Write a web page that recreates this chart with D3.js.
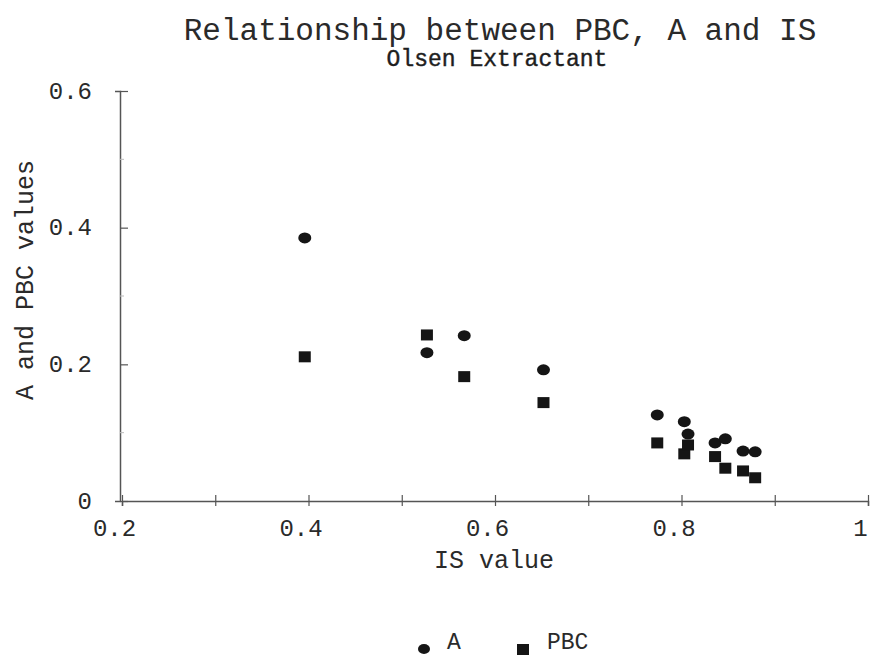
<!DOCTYPE html>
<html>
<head>
<meta charset="utf-8">
<script src="https://cdn.jsdelivr.net/npm/d3@7"></script>
<style>
  html, body { margin: 0; padding: 0; background: #fff; }
  svg { display: block; }
  text { font-family: "Liberation Mono", "DejaVu Sans Mono", monospace; fill: #2a2a2a; }
</style>
</head>
<body>
<svg id="chart" width="870" height="659"></svg>
<script>
// ---- data ----
const isValues  = [0.396, 0.527, 0.567, 0.652, 0.774, 0.803, 0.807, 0.836, 0.847, 0.866, 0.879];
const aValues   = [0.385, 0.217, 0.242, 0.192, 0.126, 0.116, 0.098, 0.085, 0.091, 0.073, 0.072];
const pbcValues = [0.211, 0.243, 0.182, 0.144, 0.085, 0.069, 0.082, 0.065, 0.048, 0.044, 0.034];
const xTicks = [0.2, 0.4, 0.6, 0.8, 1];
const xMinorTicks = [0.3, 0.5, 0.7, 0.9];
const yTicks = [0, 0.2, 0.4, 0.6];
const yMinorTicks = [0.1, 0.3, 0.5];
const seriesNames = ["A", "PBC"];
const titleText = "Relationship between PBC, A and IS";
const subtitleText = "Olsen Extractant";
const xTitle = "IS value";
const yTitle = "A and PBC values";

const svg = d3.select("#chart");
const x = d3.scaleLinear().domain([0.2, 1]).range([122, 868]);
const y = d3.scaleLinear().domain([0, 0.6]).range([501, 91]);
const axisColor = "#555";
const markColor = "#151515";

// titles
svg.append("text").attr("x", 500).attr("y", 40).attr("text-anchor", "middle")
  .style("font-size", "31px").text(titleText);
svg.append("text").attr("x", 497).attr("y", 66).attr("text-anchor", "middle")
  .style("font-size", "23px").style("fill", "#1e1e1e").style("stroke", "#1e1e1e").style("stroke-width", 0.4)
  .text(subtitleText);

// x axis
const gx = svg.append("g").attr("transform", `translate(0,${y(0)})`)
  .call(d3.axisBottom(x).tickValues(xTicks.concat(xMinorTicks)).tickSize(5)
    .tickFormat(d => xTicks.includes(d) ? d3.format("")(d) : ""));
gx.select(".domain").attr("stroke", axisColor).attr("stroke-width", 1.5);
gx.selectAll(".tick line").attr("y1", -6).attr("stroke", axisColor).attr("stroke-width", 1.2);
gx.selectAll(".tick text").attr("y", 18).attr("dx", -8)
  .style("font-size", "24px").style("fill", "#2a2a2a")
  .text(d => xTicks.includes(d) ? (d === 1 ? "1" : d.toFixed(1)) : "");

// y axis
const gy = svg.append("g").attr("transform", `translate(${x(0.2) - 2},0)`)
  .call(d3.axisLeft(y).tickValues(yTicks).tickSize(5)
    .tickFormat(d => d === 0 ? "0" : d.toFixed(1)));
gy.select(".domain").attr("stroke", axisColor).attr("stroke-width", 1.5);
gy.selectAll(".tick line").attr("x2", 8).attr("stroke", axisColor).attr("stroke-width", 1.2);
gy.selectAll(".tick text").attr("x", -28).attr("dy", "0.3em")
  .style("font-size", "24px").style("fill", "#2a2a2a");
gy.selectAll(".minor").data(yMinorTicks).enter().append("line")
  .attr("x1", 0).attr("x2", 4).attr("y1", d => y(d)).attr("y2", d => y(d))
  .attr("stroke", "#bbb").attr("stroke-width", 1);

// axis titles
svg.append("text").attr("x", 494).attr("y", 568).attr("text-anchor", "middle")
  .style("font-size", "25px").text(xTitle);
svg.append("text").attr("transform", "translate(33,280) rotate(-90)").attr("text-anchor", "middle")
  .style("font-size", "25px").text(yTitle);

// data
const pts = isValues.map((v, i) => ({ is: v, a: aValues[i], pbc: pbcValues[i] }));
svg.append("g").selectAll("rect").data(pts).enter().append("rect")
  .attr("x", d => x(d.is) - 6).attr("y", d => y(d.pbc) - 5.5)
  .attr("width", 12).attr("height", 11).attr("fill", markColor);
svg.append("g").selectAll("ellipse").data(pts).enter().append("ellipse")
  .attr("cx", d => x(d.is)).attr("cy", d => y(d.a))
  .attr("rx", 6.5).attr("ry", 5.5).attr("fill", markColor);

// legend
const lg = svg.append("g");
lg.append("ellipse").attr("cx", 424).attr("cy", 649).attr("rx", 6).attr("ry", 5).attr("fill", markColor);
lg.append("text").attr("x", 447).attr("y", 649).style("font-size", "23px").text(seriesNames[0]);
lg.append("rect").attr("x", 517).attr("y", 644).attr("width", 12).attr("height", 11).attr("fill", markColor);
lg.append("text").attr("x", 547).attr("y", 649).style("font-size", "23px").text(seriesNames[1]);
</script>
</body>
</html>
